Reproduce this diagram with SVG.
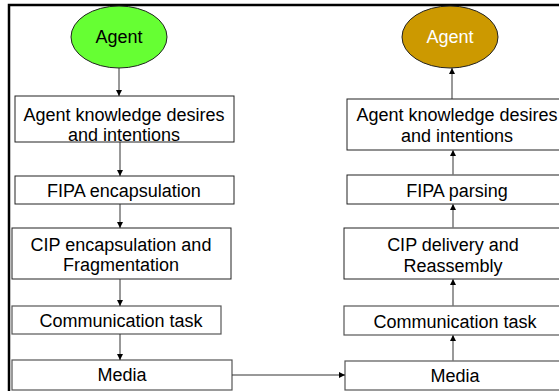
<svg xmlns="http://www.w3.org/2000/svg" width="559" height="391" viewBox="0 0 559 391">
  <style>
    .frame { fill: none; stroke: #000; stroke-width: 2.5; }
    .box { fill: #fff; stroke: #222; stroke-width: 1; }
    .box-soft { fill: #fff; stroke: #555; stroke-width: 1.2; }
    .lbl { font-family: "Liberation Sans", Arial, sans-serif; font-size: 18px; fill: #000; text-anchor: middle; }
    .lbl-w { fill: #fff; }
    .wire { stroke: #333; stroke-width: 1; fill: none; }
    .wire-g { stroke: #777; stroke-width: 1.5; fill: none; }
  </style>
  <defs>
    <marker id="head" viewBox="0 0 8 8" refX="8" refY="4" markerWidth="6" markerHeight="6" markerUnits="userSpaceOnUse" orient="auto">
      <path d="M0,0 L8,4 L0,8 Z" fill="#000"/>
    </marker>
  </defs>

  <rect class="frame" x="9" y="5" width="620" height="420"/>

  <!-- sending side -->
  <g id="agent-send">
    <ellipse cx="119" cy="37" rx="48" ry="31" fill="#66FF33" stroke="#222" stroke-width="1"/>
    <text class="lbl" x="119" y="43">Agent</text>
  </g>
  <g id="send-knowledge">
    <rect class="box" x="15" y="96" width="219" height="46"/>
    <text class="lbl" x="124" y="121">Agent knowledge desires</text>
    <text class="lbl" x="124" y="141">and intentions</text>
  </g>
  <g id="fipa-encap">
    <rect class="box" x="15" y="176" width="219" height="28"/>
    <text class="lbl" x="124" y="196.5">FIPA encapsulation</text>
  </g>
  <g id="cip-encap">
    <rect class="box" x="12" y="228" width="219" height="51"/>
    <text class="lbl" x="121" y="251">CIP encapsulation and</text>
    <text class="lbl" x="121" y="271">Fragmentation</text>
  </g>
  <g id="send-comm">
    <rect class="box-soft" x="12" y="306" width="209" height="28"/>
    <text class="lbl" x="121" y="327">Communication task</text>
  </g>
  <g id="send-media">
    <rect class="box-soft" x="12" y="360" width="220" height="30"/>
    <text class="lbl" x="122" y="381">Media</text>
  </g>

  <!-- receiving side -->
  <g id="agent-recv">
    <ellipse cx="450" cy="37" rx="48" ry="31" fill="#CC9900" stroke="#222" stroke-width="1"/>
    <text class="lbl lbl-w" x="450" y="43">Agent</text>
  </g>
  <g id="recv-knowledge">
    <rect class="box" x="347" y="99" width="219" height="51"/>
    <text class="lbl" x="457" y="121">Agent knowledge desires</text>
    <text class="lbl" x="457" y="142">and intentions</text>
  </g>
  <g id="fipa-parse">
    <rect class="box" x="347" y="175" width="219" height="29"/>
    <text class="lbl" x="457" y="196.5">FIPA parsing</text>
  </g>
  <g id="cip-deliver">
    <rect class="box" x="344" y="228" width="222" height="51"/>
    <text class="lbl" x="453" y="251">CIP delivery and</text>
    <text class="lbl" x="453" y="272">Reassembly</text>
  </g>
  <g id="recv-comm">
    <rect class="box-soft" x="344" y="306" width="222" height="29"/>
    <text class="lbl" x="455" y="327.5">Communication task</text>
  </g>
  <g id="recv-media">
    <rect class="box-soft" x="345" y="361" width="221" height="29"/>
    <text class="lbl" x="455" y="382">Media</text>
  </g>

  <!-- connectors -->
  <g id="connectors">
    <line class="wire" x1="119" y1="68" x2="119" y2="96" marker-end="url(#head)"/>
    <line class="wire" x1="120" y1="142" x2="120" y2="176" marker-end="url(#head)"/>
    <line class="wire" x1="120" y1="204" x2="120" y2="228" marker-end="url(#head)"/>
    <line class="wire" x1="120" y1="279" x2="120" y2="306" marker-end="url(#head)"/>
    <line class="wire" x1="120" y1="334" x2="120" y2="360" marker-end="url(#head)"/>
    <line class="wire" x1="232" y1="375" x2="345" y2="375" marker-end="url(#head)"/>
    <line class="wire-g" x1="453" y1="361" x2="453" y2="335" marker-end="url(#head)"/>
    <line class="wire-g" x1="453" y1="306" x2="453" y2="279" marker-end="url(#head)"/>
    <line class="wire-g" x1="453" y1="228" x2="453" y2="204" marker-end="url(#head)"/>
    <line class="wire-g" x1="453" y1="175" x2="453" y2="150" marker-end="url(#head)"/>
    <line class="wire" x1="452" y1="99" x2="452" y2="68" marker-end="url(#head)"/>
  </g>
</svg>
